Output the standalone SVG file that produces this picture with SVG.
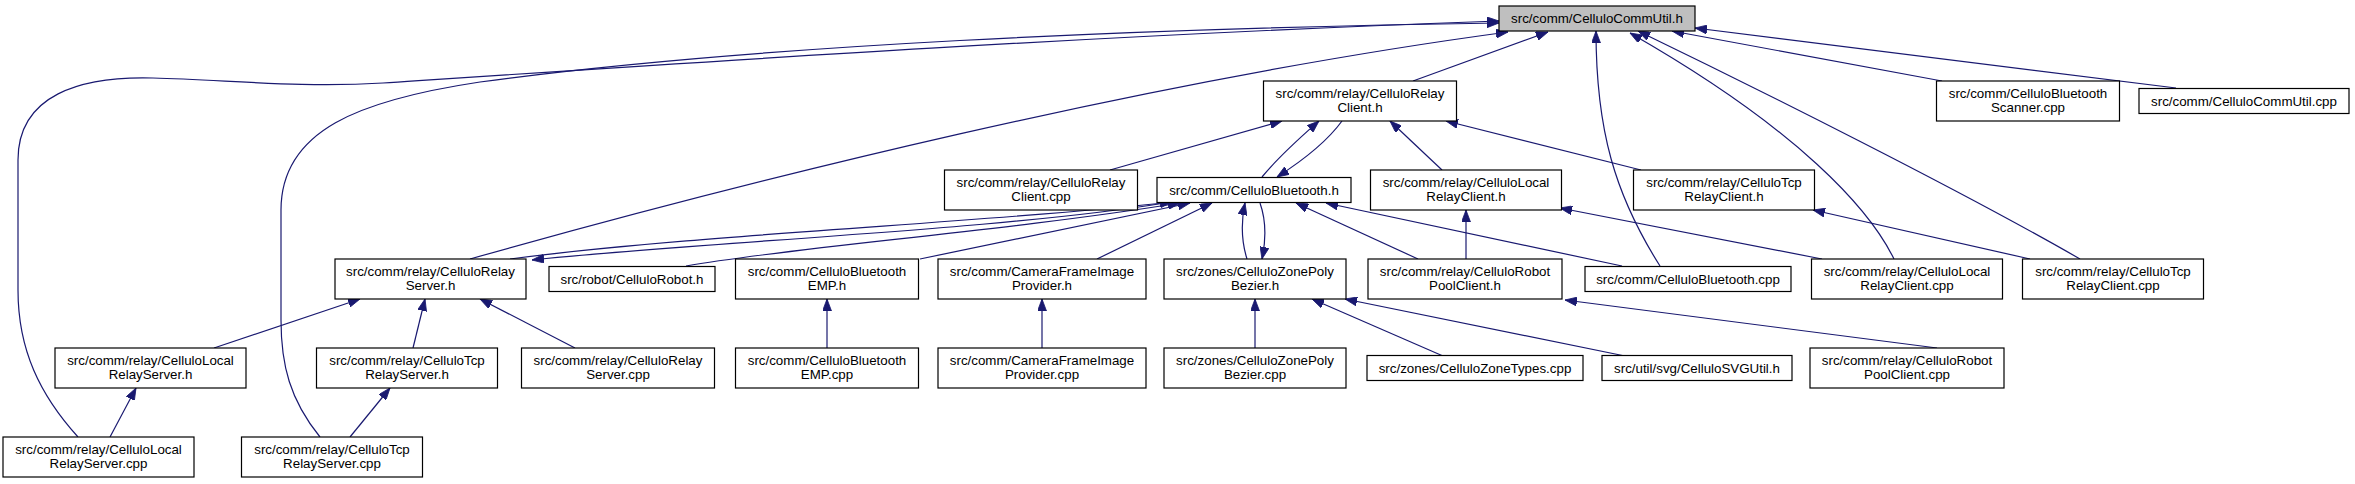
<svg xmlns="http://www.w3.org/2000/svg" width="2355" height="484" viewBox="0 0 2355 484">
<style>
.n rect{fill:#ffffff;stroke:#000000;stroke-width:1.2}
.n.root rect{fill:#bfbfbf}
.n text{font-family:"Liberation Sans",Arial,Helvetica,sans-serif;font-size:13.33px;fill:#000000;text-anchor:middle}
.e path{fill:none;stroke:#191970;stroke-width:1.2;marker-end:url(#ah)}
</style>
<defs>
<marker id="ah" viewBox="0 0 12 9" refX="12" refY="4.5" markerWidth="12" markerHeight="9" orient="auto" markerUnits="userSpaceOnUse">
<path d="M0,0 L12,4.5 L0,9 z" fill="#191970" stroke="#191970" stroke-width="0.8"/>
</marker>
</defs>
<rect x="0" y="0" width="2355" height="484" fill="#ffffff"/>
<g id="edges" class="e">
<path d="M1413,81 L1548,32"/>
<path d="M470,259 C750,180 1150,80 1508,32"/>
<path d="M78,437 C40,395 18,350 18,290 L18,160 C18,95 80,76 153,78 C230,80 300,88 383,83 C700,62 1100,35 1499,21"/>
<path d="M320,437 C290,400 281,365 281,320 L281,210 C281,130 360,100 480,82 C750,45 1150,28 1499,23"/>
<path d="M1660,266 C1615,195 1596,130 1596,31"/>
<path d="M1894,259 C1870,210 1800,130 1630,33"/>
<path d="M2080,259 C1960,190 1760,90 1638,31"/>
<path d="M1942,81 L1672,31"/>
<path d="M2176,88 L1695,28"/>
<path d="M1110,170 L1282,121"/>
<path d="M1262,177 C1280,155 1302,136 1319,121"/>
<path d="M1342,121 C1326,143 1302,161 1277,177"/>
<path d="M1442,170 L1390,121"/>
<path d="M1641,170 L1446,121"/>
<path d="M1165,203 C1000,230 700,242 532,260"/>
<path d="M510,259 C700,234 1000,222 1172,202"/>
<path d="M686,266 C800,246 1000,232 1180,203"/>
<path d="M920,259 L1190,203"/>
<path d="M1097,259 L1212,203"/>
<path d="M1247,259 C1241,240 1241,222 1245,203"/>
<path d="M1260,203 C1266,220 1266,240 1262,259"/>
<path d="M1418,259 L1296,203"/>
<path d="M1622,266 L1326,203"/>
<path d="M1466,259 L1466,210"/>
<path d="M1822,259 L1560,208"/>
<path d="M2030,259 L1813,210"/>
<path d="M214,348 L360,299"/>
<path d="M413,348 L425,299"/>
<path d="M575,348 L480,299"/>
<path d="M827,348 L827,299"/>
<path d="M1042,348 L1042,299"/>
<path d="M1255,348 L1255,299"/>
<path d="M1443,356 L1312,299"/>
<path d="M1625,356 L1345,299"/>
<path d="M1937,348 L1565,300"/>
<path d="M110,437 L136,388"/>
<path d="M350,437 L390,388"/>
</g>
<g id="n0" class="n root"><rect x="1499" y="6" width="196" height="25"/><text x="1597" y="23">src/comm/CelluloCommUtil.h</text></g>
<g id="n1" class="n"><rect x="1263.5" y="81" width="193" height="40"/><text x="1360" y="98">src/comm/relay/CelluloRelay</text><text x="1360" y="112">Client.h</text></g>
<g id="n2" class="n"><rect x="1936.5" y="81" width="183" height="40"/><text x="2028" y="98">src/comm/CelluloBluetooth</text><text x="2028" y="112">Scanner.cpp</text></g>
<g id="n3" class="n"><rect x="2139" y="88.5" width="210" height="25"/><text x="2244" y="105.5">src/comm/CelluloCommUtil.cpp</text></g>
<g id="n4" class="n"><rect x="944.5" y="170" width="193" height="40"/><text x="1041" y="187">src/comm/relay/CelluloRelay</text><text x="1041" y="201">Client.cpp</text></g>
<g id="n5" class="n"><rect x="1157" y="177.5" width="194" height="25"/><text x="1254" y="194.5">src/comm/CelluloBluetooth.h</text></g>
<g id="n6" class="n"><rect x="1370.5" y="170" width="191" height="40"/><text x="1466" y="187">src/comm/relay/CelluloLocal</text><text x="1466" y="201">RelayClient.h</text></g>
<g id="n7" class="n"><rect x="1633.5" y="170" width="181" height="40"/><text x="1724" y="187">src/comm/relay/CelluloTcp</text><text x="1724" y="201">RelayClient.h</text></g>
<g id="n8" class="n"><rect x="335" y="259" width="191" height="40"/><text x="430.5" y="276">src/comm/relay/CelluloRelay</text><text x="430.5" y="290">Server.h</text></g>
<g id="n9" class="n"><rect x="549" y="266.5" width="166" height="25"/><text x="632" y="283.5">src/robot/CelluloRobot.h</text></g>
<g id="n10" class="n"><rect x="735.5" y="259" width="183" height="40"/><text x="827" y="276">src/comm/CelluloBluetooth</text><text x="827" y="290">EMP.h</text></g>
<g id="n11" class="n"><rect x="938" y="259" width="208" height="40"/><text x="1042" y="276">src/comm/CameraFrameImage</text><text x="1042" y="290">Provider.h</text></g>
<g id="n12" class="n"><rect x="1164" y="259" width="182" height="40"/><text x="1255" y="276">src/zones/CelluloZonePoly</text><text x="1255" y="290">Bezier.h</text></g>
<g id="n13" class="n"><rect x="1368" y="259" width="194" height="40"/><text x="1465" y="276">src/comm/relay/CelluloRobot</text><text x="1465" y="290">PoolClient.h</text></g>
<g id="n14" class="n"><rect x="1585" y="266.5" width="206" height="25"/><text x="1688" y="283.5">src/comm/CelluloBluetooth.cpp</text></g>
<g id="n15" class="n"><rect x="1811.5" y="259" width="191" height="40"/><text x="1907" y="276">src/comm/relay/CelluloLocal</text><text x="1907" y="290">RelayClient.cpp</text></g>
<g id="n16" class="n"><rect x="2022.5" y="259" width="181" height="40"/><text x="2113" y="276">src/comm/relay/CelluloTcp</text><text x="2113" y="290">RelayClient.cpp</text></g>
<g id="n17" class="n"><rect x="55" y="348" width="191" height="40"/><text x="150.5" y="365">src/comm/relay/CelluloLocal</text><text x="150.5" y="379">RelayServer.h</text></g>
<g id="n18" class="n"><rect x="316.5" y="348" width="181" height="40"/><text x="407" y="365">src/comm/relay/CelluloTcp</text><text x="407" y="379">RelayServer.h</text></g>
<g id="n19" class="n"><rect x="521.5" y="348" width="193" height="40"/><text x="618" y="365">src/comm/relay/CelluloRelay</text><text x="618" y="379">Server.cpp</text></g>
<g id="n20" class="n"><rect x="735.5" y="348" width="183" height="40"/><text x="827" y="365">src/comm/CelluloBluetooth</text><text x="827" y="379">EMP.cpp</text></g>
<g id="n21" class="n"><rect x="938" y="348" width="208" height="40"/><text x="1042" y="365">src/comm/CameraFrameImage</text><text x="1042" y="379">Provider.cpp</text></g>
<g id="n22" class="n"><rect x="1164" y="348" width="182" height="40"/><text x="1255" y="365">src/zones/CelluloZonePoly</text><text x="1255" y="379">Bezier.cpp</text></g>
<g id="n23" class="n"><rect x="1367" y="355.5" width="216" height="25"/><text x="1475" y="372.5">src/zones/CelluloZoneTypes.cpp</text></g>
<g id="n24" class="n"><rect x="1602" y="355.5" width="190" height="25"/><text x="1697" y="372.5">src/util/svg/CelluloSVGUtil.h</text></g>
<g id="n25" class="n"><rect x="1810" y="348" width="194" height="40"/><text x="1907" y="365">src/comm/relay/CelluloRobot</text><text x="1907" y="379">PoolClient.cpp</text></g>
<g id="n26" class="n"><rect x="3" y="437" width="191" height="40"/><text x="98.5" y="454">src/comm/relay/CelluloLocal</text><text x="98.5" y="468">RelayServer.cpp</text></g>
<g id="n27" class="n"><rect x="241.5" y="437" width="181" height="40"/><text x="332" y="454">src/comm/relay/CelluloTcp</text><text x="332" y="468">RelayServer.cpp</text></g>
</svg>
